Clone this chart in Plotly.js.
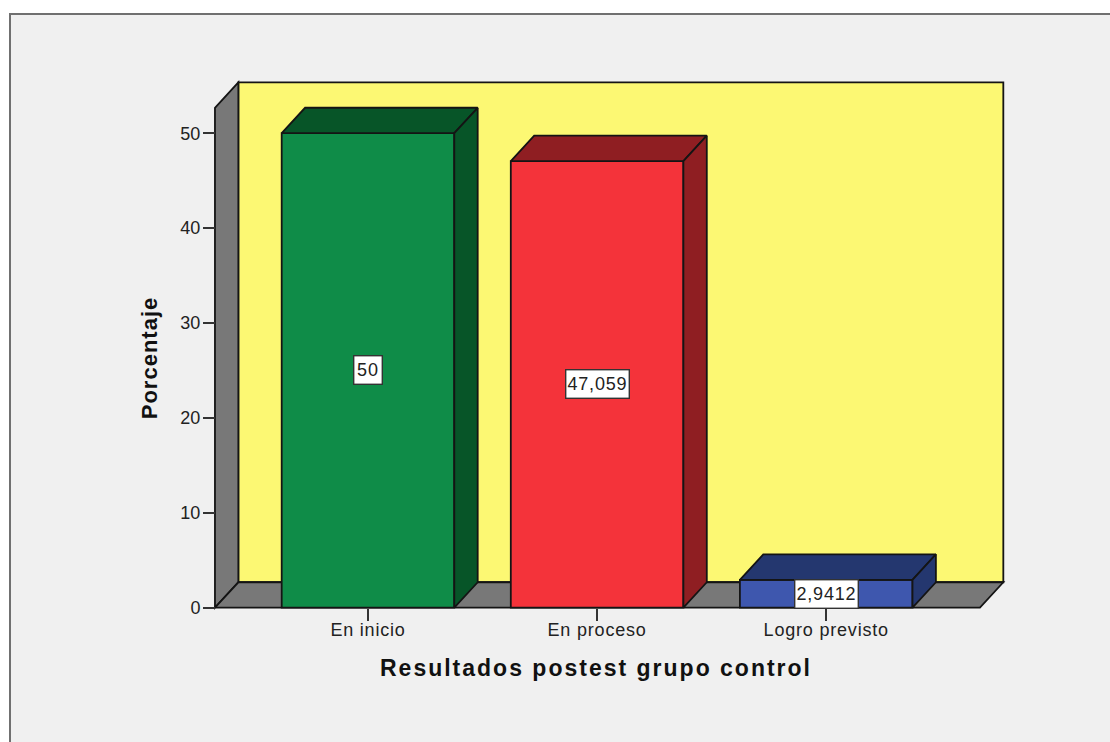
<!DOCTYPE html>
<html><head><meta charset="utf-8">
<script src="https://cdn.plot.ly/plotly-3.0.1.min.js"></script>
<style>
html,body{margin:0;padding:0;background:#fff;width:1110px;height:742px;overflow:hidden}
#frame{position:absolute;left:9px;top:13px;width:1101px;height:729px;background:#f0f0f0;border-left:2.5px solid #707070;border-top:2.5px solid #707070;box-sizing:border-box}
#chart{position:absolute;left:0;top:0;width:1110px;height:742px}
#chart .xtitle{letter-spacing:2px}
#chart .ytitle{letter-spacing:1px}
#chart .xtick text{letter-spacing:.8px}
#chart .annotation-text{letter-spacing:.8px}
</style></head><body>
<div id="frame"></div><div id="chart"></div>
<script>
const categories = ["En inicio", "En proceso", "Logro previsto"];
const values = [50, 47.059, 2.9412];
const valueLabels = ["50", "47,059", "2,9412"];
const frontColors = ["#0F8C48", "#F4333A", "#3E57AE"];
const sideColors = ["#075528", "#8F1E22", "#24376F"];
const yTicks = [0, 10, 20, 30, 40, 50];

const barWidth = 0.7534, depthX = 0.1021, depthY = 2.68;
const wallLeft = -0.668, wallRight = 2.671, wallTop = 52.68;
const pxX = 229.1, pxY = 9.49;
const mL = 179, mR = 97, mT = 72, mB = 98;
const W = 1110, H = 742, pw = W - mL - mR, ph = H - mT - mB;
const zeroPxX = 368, zeroPxY = 607.7;
const xRange = [(mL - zeroPxX) / pxX, (W - mR - zeroPxX) / pxX];
const yRange = [(zeroPxY - (H - mB)) / pxY, (zeroPxY - mT) / pxY];

const edge = "#141414", wallGrey = "#787878", backYellow = "#FCF873";
const poly = pts => "M" + pts.map(p => p[0] + "," + p[1]).join(" L") + " Z";
const wallShape = (pts, fill) => ({type: "path", xref: "x", yref: "y", layer: "below",
  path: poly(pts), fillcolor: fill, line: {color: edge, width: 1.8}});

const shapes = [
  wallShape([[wallLeft + depthX, depthY], [wallRight + depthX, depthY], [wallRight + depthX, wallTop + depthY], [wallLeft + depthX, wallTop + depthY]], backYellow),
  wallShape([[wallLeft, 0], [wallLeft + depthX, depthY], [wallLeft + depthX, wallTop + depthY], [wallLeft, wallTop]], wallGrey),
  wallShape([[wallLeft, 0], [wallRight, 0], [wallRight + depthX, depthY], [wallLeft + depthX, depthY]], wallGrey)
];

const xs = categories.map((_, i) => i);
const traces = [{type: "bar", x: xs, y: values, width: barWidth,
  marker: {color: frontColors, line: {color: edge, width: 1.8}}, hoverinfo: "skip", showlegend: false}];

values.forEach((v, i) => {
  const l = i - barWidth / 2, r = i + barWidth / 2;
  const faces = [
    [[l, v], [r, v], [r + depthX, v + depthY], [l + depthX, v + depthY], [l, v]],
    [[r, 0], [r + depthX, depthY], [r + depthX, v + depthY], [r, v], [r, 0]]
  ];
  faces.forEach(f => traces.push({type: "scatter", mode: "lines", x: f.map(p => p[0]), y: f.map(p => p[1]),
    fill: "toself", fillcolor: sideColors[i], line: {color: edge, width: 1.8}, hoverinfo: "skip", showlegend: false}));
});

const annotations = values.map((v, i) => ({x: i, y: v / 2, xref: "x", yref: "y", text: valueLabels[i], showarrow: false,
  font: {family: "Liberation Sans", size: 18, color: "#222"}, bgcolor: "#fff", bordercolor: "#333", borderwidth: 1.4, borderpad: 3.5}));

const layout = {
  width: W, height: H, margin: {l: mL, r: mR, t: mT, b: mB, pad: 0},
  paper_bgcolor: "rgba(0,0,0,0)", plot_bgcolor: "rgba(0,0,0,0)", showlegend: false, hovermode: false,
  font: {family: "Liberation Sans", color: "#222"},
  shapes, annotations,
  xaxis: {range: xRange, tickmode: "array", tickvals: xs, ticktext: categories, showgrid: false, zeroline: false,
    anchor: "free", position: (H - mB - zeroPxY) / ph, ticks: "outside", ticklen: 12, tickwidth: 1.6, tickcolor: "#333",
    ticklabelstandoff: -6,
    tickfont: {family: "Liberation Sans", size: 18, color: "#222"}, showline: false,
    title: {text: "<b>Resultados postest grupo control</b>", standoff: 20, font: {family: "Liberation Sans", size: 23, color: "#111"}}},
  yaxis: {range: yRange, tickmode: "array", tickvals: yTicks, showgrid: false, zeroline: false,
    anchor: "free", position: (215 - mL) / pw, ticks: "outside", ticklen: 12, tickwidth: 1.6, tickcolor: "#333",
    ticklabelstandoff: -1,
    tickfont: {family: "Liberation Sans", size: 18, color: "#222"}, showline: false,
    title: {text: "<b>Porcentaje</b>", standoff: 15, font: {family: "Liberation Sans", size: 22, color: "#111"}}}
};
Plotly.newPlot("chart", traces, layout, {displayModeBar: false, staticPlot: true});
</script></body></html>
